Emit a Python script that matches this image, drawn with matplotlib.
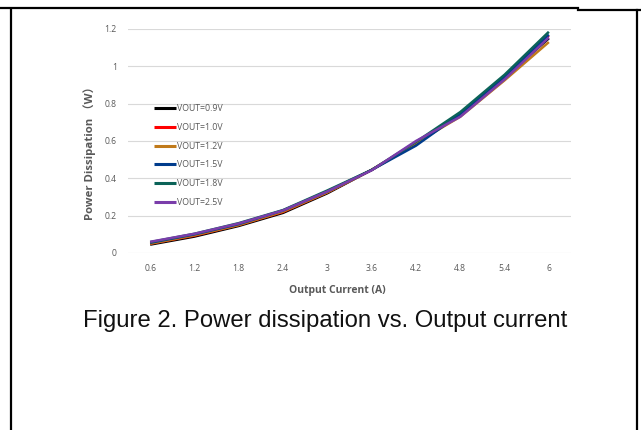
import matplotlib
matplotlib.use("Agg")
import matplotlib.pyplot as plt
from matplotlib.lines import Line2D
import numpy as np

# output current categories (A)
currents = ["0.6", "1.2", "1.8", "2.4", "3", "3.6", "4.2", "4.8", "5.4", "6"]

# power dissipation (W)
p_09 = [0.045, 0.088, 0.145, 0.215, 0.320, 0.445, 0.585, 0.740, 0.940, 1.150]
p_10 = [0.050, 0.093, 0.150, 0.220, 0.325, 0.445, 0.590, 0.745, 0.945, 1.165]
p_12 = [0.050, 0.095, 0.150, 0.222, 0.325, 0.445, 0.590, 0.730, 0.925, 1.130]
p_15 = [0.055, 0.100, 0.155, 0.228, 0.330, 0.445, 0.575, 0.745, 0.945, 1.170]
p_18 = [0.058, 0.103, 0.160, 0.230, 0.335, 0.445, 0.595, 0.755, 0.955, 1.185]
p_25 = [0.060, 0.103, 0.158, 0.228, 0.330, 0.443, 0.600, 0.730, 0.930, 1.155]

labels = ["VOUT=0.9V", "VOUT=1.0V", "VOUT=1.2V", "VOUT=1.5V", "VOUT=1.8V", "VOUT=2.5V"]
colors = ["#000000", "#FF0000", "#C07A1A", "#003C8C", "#0B6358", "#7A3DAA"]
series = [p_09, p_10, p_12, p_15, p_18, p_25]

yticks = [0, 0.2, 0.4, 0.6, 0.8, 1.0, 1.2]
ytick_labels = ["0", "0.2", "0.4", "0.6", "0.8", "1", "1.2"]

W, H = 641, 430
fig = plt.figure(figsize=(W / 100, H / 100), dpi=100)
ax = fig.add_axes([128 / W, 1 - 253 / H, (571 - 128) / W, (253 - 29) / H])

xpos = np.arange(len(currents))
for vals, lab, col in zip(series, labels, colors):
    ax.plot(xpos, vals, color=col, lw=1.8, label=lab, solid_capstyle="butt")

ax.set_xlim(-0.5, len(currents) - 0.5)
ax.set_ylim(0, 1.2)
ax.set_xticks(xpos)
ax.set_xticklabels(currents)
ax.set_yticks(yticks)
ax.set_yticklabels(ytick_labels)
ax.tick_params(length=0, labelsize=6.2, labelcolor="#595959", pad=8)
ax.tick_params(axis="y", pad=8)
for s in ax.spines.values():
    s.set_visible(False)
ax.grid(axis="y", color="#D9D9D9", lw=0.8)
ax.set_axisbelow(True)

tick_font = ["Open Sans", "DejaVu Sans"]
for t in ax.get_xticklabels() + ax.get_yticklabels():
    t.set_family(tick_font)

leg = ax.legend(loc="upper left", bbox_to_anchor=(154 / W, 1 - 104 / H),
                bbox_transform=fig.transFigure, frameon=False, borderpad=0,
                borderaxespad=0, handlelength=2.5, handletextpad=0.1,
                labelspacing=1.12, prop={"family": tick_font, "size": 6.3})
for t in leg.get_texts():
    t.set_color("#595959")
for h in leg.get_lines():
    h.set_linewidth(2.2)

fig.text(337 / W, 1 - 291 / H, "Output Current (A)", ha="center", va="center",
         fontsize=7.5, fontweight="bold", color="#595959",
         family=["Open Sans", "Noto Sans CJK SC"])
fig.text(90 / W, 1 - 150 / H, "Power Dissipation （W）", ha="center", va="center",
         rotation=90, fontsize=8.2, fontweight="bold", color="#595959",
         family=["Open Sans", "Noto Sans CJK SC"])

fig.text(325 / W, 1 - 321 / H, "Figure 2. Power dissipation vs. Output current",
         ha="center", va="center", fontsize=17.2, color="#111111",
         family=["Liberation Sans", "DejaVu Sans"])

# table border around the figure
def fline(x0, y0, x1, y1, lw=1.6):
    fig.add_artist(Line2D([x0 / W, x1 / W], [1 - y0 / H, 1 - y1 / H],
                          transform=fig.transFigure, color="black", lw=lw))

fline(0, 8, 578, 8)
fline(578, 9.5, W, 9.5)
fline(11, 9, 11, H)
fline(637, 9.5, 637, H)

fig.savefig("out.png", dpi=100)
